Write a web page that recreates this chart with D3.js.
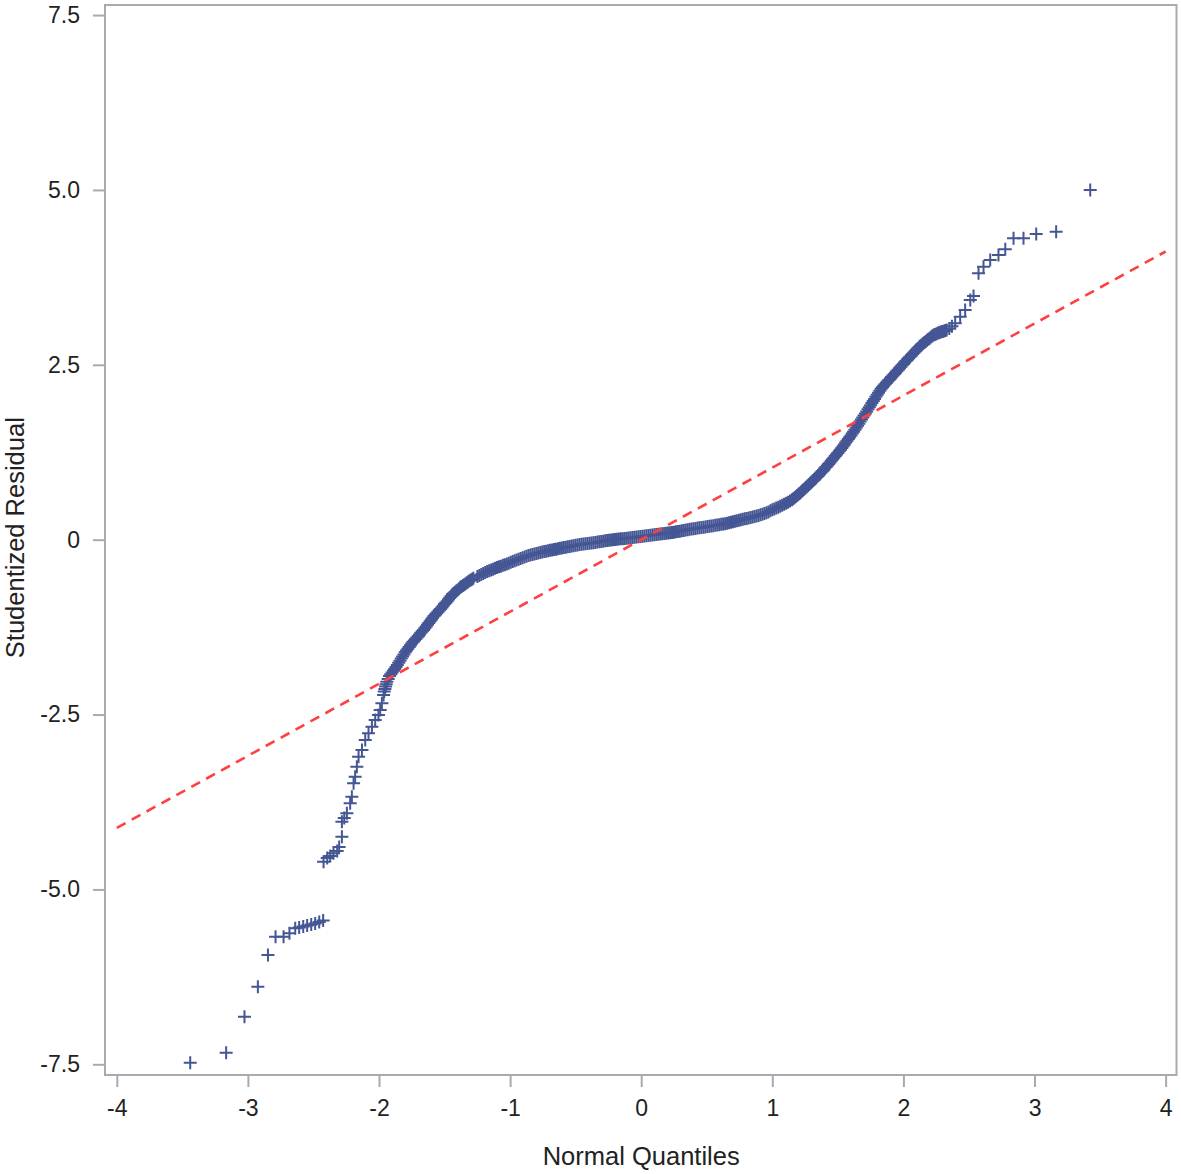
<!DOCTYPE html>
<html>
<head>
<meta charset="utf-8">
<script src="https://cdn.jsdelivr.net/npm/d3@7"></script>
<style>
  html, body { margin: 0; padding: 0; background: #ffffff; }
  svg { display: block; }
  text { font-family: "Liberation Sans", Arial, sans-serif; }
</style>
</head>
<body>
<svg id="chart" width="1181" height="1174"></svg>
<script>
// ---------------- data ----------------
const xTickValues = [-4, -3, -2, -1, 0, 1, 2, 3, 4];
const xTickLabels = ["-4", "-3", "-2", "-1", "0", "1", "2", "3", "4"];
const yTickValues = [-7.5, -5, -2.5, 0, 2.5, 5, 7.5];
const yTickLabels = ["-7.5", "-5.0", "-2.5", "0", "2.5", "5.0", "7.5"];
const xTitle = "Normal Quantiles";
const yTitle = "Studentized Residual";

// reference (fit) line end points
const refLineX = [-4, 4];
const refLineY = [-4.12, 4.12];

// lower tail: sparse observations
const lowerQ = [-3.440, -3.166, -3.026, -2.924, -2.847, -2.789, -2.728, -2.683,
  -2.639, -2.609, -2.578, -2.548, -2.517, -2.487, -2.456, -2.426,
  -2.423, -2.395, -2.372, -2.347, -2.319, -2.304,
  -2.283, -2.283, -2.265, -2.245, -2.220, -2.207, -2.194, -2.182, -2.169, -2.156,
  -2.130, -2.105, -2.080, -2.054, -2.029, -2.004, -1.991, -1.978];
const lowerR = [-7.477, -7.334, -6.819, -6.390, -5.937, -5.676, -5.676, -5.627,
  -5.555, -5.544, -5.530, -5.515, -5.501, -5.487, -5.465, -5.444,
  -4.603, -4.550, -4.522, -4.483, -4.450, -4.393,
  -4.246, -4.031, -3.979, -3.911, -3.768, -3.674, -3.483, -3.388, -3.245, -3.102,
  -3.006, -2.864, -2.768, -2.673, -2.578, -2.506, -2.435, -2.339];

// lower bend of the dense band
const bendLowQ = [-1.965, -1.96, -1.955, -1.95, -1.945, -1.94, -1.93, -1.92, -1.91, -1.90,
  -1.89, -1.88, -1.87, -1.86, -1.85, -1.84, -1.83, -1.82, -1.81, -1.80,
  -1.79, -1.78, -1.77, -1.76, -1.75, -1.74, -1.73, -1.72, -1.71, -1.70,
  -1.69, -1.68, -1.67, -1.66, -1.65, -1.64, -1.63, -1.62, -1.61, -1.60,
  -1.59, -1.58, -1.57, -1.56, -1.55, -1.54, -1.53, -1.52, -1.51, -1.50,
  -1.49, -1.48, -1.47, -1.46, -1.45, -1.44, -1.43, -1.42, -1.41, -1.40,
  -1.39, -1.38, -1.37, -1.36, -1.35, -1.34, -1.33, -1.32, -1.31, -1.30,
  -1.29, -1.28];
const bendLowR = [-2.22, -2.17, -2.135, -2.10, -2.065, -2.03, -1.99, -1.95, -1.925, -1.90,
  -1.875, -1.85, -1.82, -1.79, -1.76, -1.73, -1.70, -1.67, -1.64, -1.61,
  -1.585, -1.56, -1.535, -1.51, -1.485, -1.46, -1.44, -1.42, -1.40, -1.38,
  -1.355, -1.33, -1.31, -1.29, -1.265, -1.24, -1.215, -1.19, -1.165, -1.14,
  -1.115, -1.09, -1.07, -1.05, -1.03, -1.01, -0.99, -0.97, -0.945, -0.92,
  -0.90, -0.88, -0.855, -0.83, -0.805, -0.78, -0.765, -0.75, -0.735, -0.72,
  -0.70, -0.68, -0.668, -0.655, -0.643, -0.63, -0.615, -0.60, -0.588, -0.575,
  -0.564, -0.553];

// flat middle of the dense band
const middleQ = [-1.25, -1.235, -1.22, -1.205, -1.19, -1.175, -1.16, -1.145, -1.13, -1.115,
  -1.10, -1.085, -1.07, -1.055, -1.04, -1.025, -1.01, -0.995, -0.98, -0.965,
  -0.95, -0.935, -0.92, -0.905, -0.89, -0.875, -0.86, -0.845, -0.83, -0.815,
  -0.80, -0.785, -0.77, -0.755, -0.74, -0.725, -0.71, -0.695, -0.68, -0.665,
  -0.65, -0.635, -0.62, -0.605, -0.59, -0.575, -0.56, -0.545, -0.53, -0.515,
  -0.50, -0.485, -0.47, -0.455, -0.44, -0.425, -0.41, -0.395, -0.38, -0.365,
  -0.35, -0.335, -0.32, -0.305, -0.29, -0.275, -0.26, -0.245, -0.23, -0.215,
  -0.20, -0.185, -0.17, -0.155, -0.14, -0.125, -0.11, -0.095, -0.08, -0.065,
  -0.05, -0.035, -0.02, -0.005, 0.01, 0.025, 0.04, 0.055, 0.07, 0.085,
  0.10, 0.115, 0.13, 0.145, 0.16, 0.175, 0.19, 0.205, 0.22, 0.235,
  0.25, 0.265, 0.28, 0.295, 0.31, 0.325, 0.34, 0.355, 0.37, 0.385,
  0.40, 0.415, 0.43, 0.445, 0.46, 0.475, 0.49, 0.505, 0.52, 0.535,
  0.55, 0.565, 0.58, 0.595, 0.61, 0.625, 0.64, 0.655, 0.67, 0.685,
  0.70, 0.715, 0.73, 0.745, 0.76, 0.775, 0.79, 0.805, 0.82, 0.835,
  0.85, 0.865, 0.88, 0.895, 0.91, 0.925, 0.94, 0.955, 0.97, 0.985,
  1.00, 1.015, 1.03, 1.045, 1.06, 1.075, 1.09, 1.105, 1.12, 1.135, 1.15];
const middleR = [-0.527, -0.512, -0.497, -0.483, -0.469, -0.456, -0.444, -0.432, -0.421, -0.410,
  -0.399, -0.388, -0.378, -0.367, -0.357, -0.346, -0.336, -0.324, -0.313, -0.301,
  -0.290, -0.279, -0.268, -0.257, -0.246, -0.236, -0.226, -0.218, -0.211, -0.204,
  -0.197, -0.190, -0.183, -0.176, -0.170, -0.164, -0.158, -0.152, -0.147, -0.141,
  -0.135, -0.129, -0.124, -0.118, -0.113, -0.107, -0.102, -0.096, -0.091, -0.085,
  -0.080, -0.075, -0.070, -0.066, -0.062, -0.058, -0.055, -0.051, -0.047, -0.043,
  -0.039, -0.034, -0.030, -0.025, -0.021, -0.016, -0.011, -0.007, -0.003, 0.000,
  0.004, 0.007, 0.010, 0.012, 0.015, 0.018, 0.020, 0.023, 0.027, 0.031,
  0.035, 0.038, 0.042, 0.046, 0.050, 0.053, 0.057, 0.060, 0.064, 0.067,
  0.071, 0.075, 0.078, 0.081, 0.085, 0.088, 0.092, 0.096, 0.100, 0.104,
  0.108, 0.112, 0.117, 0.122, 0.127, 0.132, 0.138, 0.143, 0.148, 0.152,
  0.157, 0.161, 0.166, 0.170, 0.175, 0.179, 0.183, 0.187, 0.192, 0.196,
  0.201, 0.205, 0.210, 0.214, 0.219, 0.224, 0.229, 0.235, 0.242, 0.249,
  0.256, 0.263, 0.270, 0.277, 0.284, 0.291, 0.298, 0.304, 0.311, 0.318,
  0.325, 0.331, 0.338, 0.347, 0.356, 0.365, 0.375, 0.386, 0.397, 0.412,
  0.427, 0.440, 0.452, 0.465, 0.478, 0.492, 0.506, 0.521, 0.536, 0.553, 0.570];

// upper bend of the dense band
const bendHighQ = [1.16, 1.17, 1.18, 1.19, 1.20, 1.21, 1.22, 1.23, 1.24, 1.25,
  1.26, 1.27, 1.28, 1.29, 1.30, 1.31, 1.32, 1.33, 1.34, 1.35,
  1.36, 1.37, 1.38, 1.39, 1.40, 1.41, 1.42, 1.43, 1.44, 1.45,
  1.46, 1.47, 1.48, 1.49, 1.50, 1.51, 1.52, 1.53, 1.54, 1.55,
  1.56, 1.57, 1.58, 1.59, 1.60, 1.61, 1.62, 1.63, 1.64, 1.65,
  1.66, 1.67, 1.68, 1.69, 1.70, 1.71, 1.72, 1.73, 1.74, 1.75,
  1.76, 1.77, 1.78, 1.79, 1.80, 1.81, 1.82, 1.83, 1.84, 1.85,
  1.86, 1.87, 1.88, 1.89, 1.90, 1.91, 1.92, 1.93, 1.94, 1.95,
  1.96, 1.97, 1.98, 1.99, 2.00, 2.01, 2.02, 2.03, 2.04, 2.05,
  2.06, 2.07, 2.08, 2.09, 2.10, 2.11, 2.12, 2.13, 2.14, 2.15,
  2.16, 2.17, 2.18, 2.19, 2.20, 2.21, 2.22, 2.23, 2.24, 2.25,
  2.26, 2.27, 2.28, 2.29, 2.30, 2.31, 2.32, 2.33, 2.35, 2.37];
const bendHighR = [0.585, 0.600, 0.616, 0.633, 0.649, 0.665, 0.682, 0.700, 0.717, 0.735,
  0.752, 0.770, 0.788, 0.806, 0.824, 0.843, 0.861, 0.880, 0.899, 0.918,
  0.937, 0.956, 0.975, 0.994, 1.016, 1.038, 1.060, 1.083, 1.105, 1.128,
  1.150, 1.173, 1.196, 1.219, 1.241, 1.264, 1.287, 1.311, 1.336, 1.362,
  1.388, 1.414, 1.440, 1.465, 1.491, 1.517, 1.544, 1.572, 1.601, 1.630,
  1.659, 1.688, 1.717, 1.747, 1.776, 1.805, 1.834, 1.864, 1.893, 1.923,
  1.953, 1.983, 2.012, 2.042, 2.071, 2.101, 2.130, 2.158, 2.179, 2.200,
  2.221, 2.242, 2.263, 2.284, 2.305, 2.326, 2.346, 2.366, 2.387, 2.408,
  2.429, 2.450, 2.471, 2.492, 2.513, 2.534, 2.555, 2.575, 2.595, 2.614,
  2.634, 2.654, 2.674, 2.694, 2.714, 2.733, 2.753, 2.772, 2.788, 2.803,
  2.819, 2.834, 2.850, 2.865, 2.881, 2.896, 2.911, 2.926, 2.934, 2.942,
  2.950, 2.958, 2.965, 2.971, 2.978, 2.984, 2.991, 2.997, 3.02, 3.05];

// upper tail: sparse observations
const upperQ = [2.395, 2.433, 2.471, 2.510, 2.535, 2.573, 2.611, 2.662, 2.725, 2.777,
  2.840, 2.916, 3.013, 3.165, 3.425];
const upperR = [3.094, 3.188, 3.284, 3.427, 3.484, 3.808, 3.903, 3.999, 4.070, 4.152,
  4.309, 4.309, 4.370, 4.403, 4.999];

// ---------------- drawing ----------------
const svg = d3.select("#chart");
const frame = { left: 105, right: 1176.5, top: 5, bottom: 1075 };

const x = d3.scaleLinear().domain([-4.09, 4.083]).range([frame.left, frame.right]);
const y = d3.scaleLinear().domain([-7.653, 7.644]).range([frame.bottom, frame.top]);

const axisColor = "#a7abb0";
const textColor = "#222222";
const fontFamily = "'Liberation Sans', Arial, sans-serif";

// x axis
const gx = svg.append("g")
  .attr("transform", `translate(0,${frame.bottom})`)
  .call(d3.axisBottom(x).tickValues(xTickValues)
    .tickFormat((d, i) => xTickLabels[i]).tickSize(12).tickPadding(13));
gx.select(".domain").remove();
gx.selectAll(".tick line").attr("stroke", axisColor).attr("stroke-width", 2);
gx.selectAll(".tick text").attr("fill", textColor).attr("font-size", 23)
  .attr("font-family", fontFamily);

// y axis
const gy = svg.append("g")
  .attr("transform", `translate(${frame.left},0)`)
  .call(d3.axisLeft(y).tickValues(yTickValues)
    .tickFormat((d, i) => yTickLabels[i]).tickSize(12).tickPadding(13));
gy.select(".domain").remove();
gy.selectAll(".tick line").attr("stroke", axisColor).attr("stroke-width", 2);
gy.selectAll(".tick text").attr("fill", textColor).attr("font-size", 23)
  .attr("font-family", fontFamily);

// frame
svg.append("rect")
  .attr("x", frame.left).attr("y", frame.top)
  .attr("width", frame.right - frame.left).attr("height", frame.bottom - frame.top)
  .attr("fill", "none").attr("stroke", axisColor).attr("stroke-width", 2);

// titles
svg.append("text")
  .attr("x", (x(-4) + x(4)) / 2).attr("y", 1165)
  .attr("text-anchor", "middle").attr("fill", textColor).attr("font-size", 25.5)
  .attr("font-family", fontFamily)
  .text(xTitle);
svg.append("text")
  .attr("transform", `translate(23.5,${(y(7.5) + y(-7.5)) / 2 - 2}) rotate(-90)`)
  .attr("text-anchor", "middle").attr("fill", textColor).attr("font-size", 25.5)
  .attr("font-family", fontFamily)
  .text(yTitle);

// points
const points = [];
[[lowerQ, lowerR], [bendLowQ, bendLowR], [middleQ, middleR],
 [bendHighQ, bendHighR], [upperQ, upperR]].forEach(([qs, rs]) => {
  qs.forEach((q, i) => points.push({ q: q, r: rs[i] }));
});

const clipId = "plotclip";
svg.append("clipPath").attr("id", clipId).append("rect")
  .attr("x", frame.left).attr("y", frame.top)
  .attr("width", frame.right - frame.left).attr("height", frame.bottom - frame.top);

const plot = svg.append("g").attr("clip-path", `url(#${clipId})`);

plot.append("g").selectAll("path")
  .data(points)
  .join("path")
  .attr("transform", d => `translate(${x(d.q)},${y(d.r)})`)
  .attr("d", "M-6.5,0H6.5M0,-6.5V6.5")
  .attr("fill", "none")
  .attr("stroke", "#445694")
  .attr("stroke-width", 2);

// reference line
plot.append("path")
  .datum(refLineX.map((v, i) => [v, refLineY[i]]))
  .attr("d", d3.line().x(d => x(d[0])).y(d => y(d[1])))
  .attr("fill", "none")
  .attr("stroke", "#ff4040")
  .attr("stroke-width", 2.6)
  .attr("stroke-dasharray", "10,7");
</script>
</body>
</html>
